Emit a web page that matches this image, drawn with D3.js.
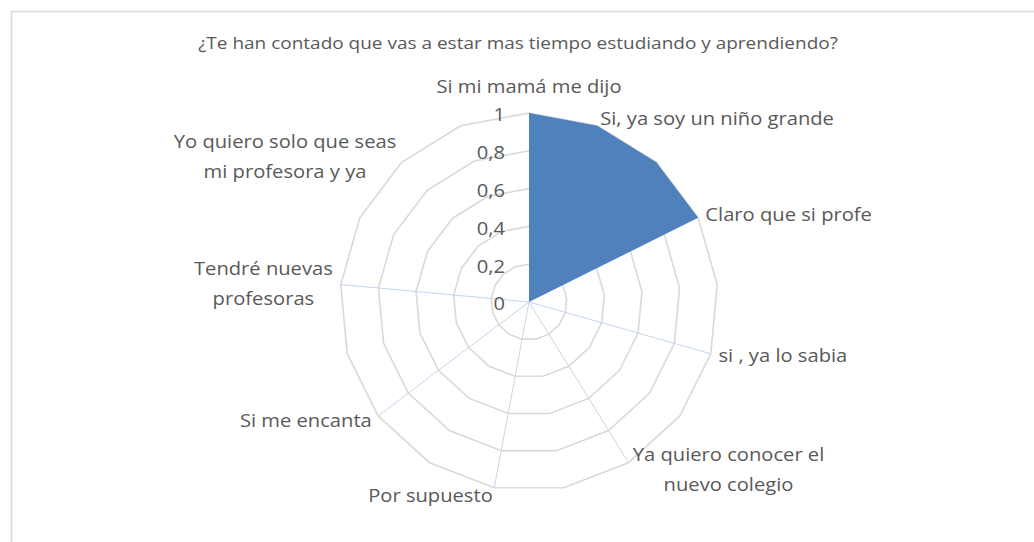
<!DOCTYPE html>
<html>
<head>
<meta charset="utf-8">
<script src="https://cdn.jsdelivr.net/npm/d3@7"></script>
<style>
  body { margin: 0; background: #fff; }
  text { font-family: "Open Sans", Lato, sans-serif; fill: #595959; }
</style>
</head>
<body>
<svg></svg>
<script>
var width = 1034;
var height = 542;
// chart data
var title = "¿Te han contado que vas a estar mas tiempo estudiando y aprendiendo?";
var categories = ["Si mi mamá me dijo", "Si, ya soy un niño grande", "", "Claro que si profe", "",
    "si , ya lo sabia", "", "Ya quiero conocer el\nnuevo colegio", "", "Por supuesto", "",
    "Si me encanta", "", "Tendré nuevas\nprofesoras", "", "Yo quiero solo que seas\nmi profesora y ya", ""];
var values = [1, 1, 1, 1, 0, 0, 0, 0, 0, 0, 0, 0, 0, 0, 0, 0, 0];
var axisLines = [0, 0, 0, 0, 0, 1, 0, 1, 0, 1, 0, 1, 0, 1, 0, 0, 0];
var tickValues = [0, 0.2, 0.4, 0.6, 0.8, 1];

var cx = 529, cy = 302, radius = 189;
var n = categories.length;
var stretch = 1.12; // the picture's text is a little wide

var svg = d3.select("svg")
    .attr("width", width)
    .attr("height", height);

// outer frame
svg.append("rect")
    .attr("x", 11.5).attr("y", 11.5)
    .attr("width", 1040).attr("height", 560)
    .attr("fill", "none")
    .attr("stroke", "#d9d9d9")
    .attr("stroke-width", 1.5);

// title, stretched to the width it has in the picture
var titleG = svg.append("g");
var titleT = titleG.append("text")
    .attr("dy", "0.35em")
    .style("text-anchor", "middle")
    .style("font-size", "15.5px")
    .text(title);
var tw = titleT.node().getComputedTextLength();
titleG.attr("transform", "translate(518,44) scale(" + (640 / tw) + ",1)");

var angle = d3.scaleLinear().domain([0, n]).range([0, 2 * Math.PI]);
var rScale = d3.scaleLinear().domain([0, 1]).range([0, radius]);
var locale = d3.formatLocale({decimal: ",", thousands: ".", grouping: [3], currency: ["", "€"]});
var fmt = locale.format("~g");

var g = svg.append("g").attr("transform", "translate(" + cx + "," + cy + ")");

var ringLine = d3.lineRadial()
    .angle((d, i) => angle(i))
    .radius(d => rScale(d))
    .curve(d3.curveLinearClosed);

// rings
g.selectAll(".ring")
    .data(tickValues.filter(t => t > 0))
    .enter()
    .append("path")
    .attr("d", t => ringLine(categories.map(() => t)))
    .attr("fill", "none")
    .attr("stroke", "#d9d9d9")
    .attr("stroke-width", 1.6);

// spokes
g.selectAll(".spoke")
    .data(categories.map((c, i) => i).filter(i => axisLines[i]))
    .enter()
    .append("line")
    .attr("x1", 0).attr("y1", 0)
    .attr("x2", i => rScale(1) * Math.sin(angle(i)))
    .attr("y2", i => -rScale(1) * Math.cos(angle(i)))
    .attr("stroke", "#c6d6ec")
    .attr("stroke-width", 1);

// filled series
g.append("path")
    .attr("d", ringLine(values))
    .attr("fill", "#4f81bd");

// value axis labels
g.selectAll(".tick")
    .data(tickValues)
    .enter()
    .append("g")
    .attr("transform", t => "translate(-24," + (-rScale(t) + 2) + ") scale(" + stretch + ",1)")
    .append("text")
    .attr("dy", "0.35em")
    .style("text-anchor", "end")
    .style("font-size", "18px")
    .text(t => fmt(t));

// category labels
var lineH = 30;
categories.forEach((c, i) => {
    if (!c) return;
    var a = angle(i);
    var s = Math.sin(a), co = Math.cos(a);
    var px = cx + (radius + 8) * s;
    var py = cy - (radius + 8) * co;
    var lines = c.split("\n");
    var lg = svg.append("g");
    var t = lg.append("text")
        .style("font-size", "18px")
        .style("text-anchor", "middle");
    var spans = lines.map(l => t.append("tspan").text(l));
    var w = d3.max(spans, sp => sp.node().getComputedTextLength()) * stretch;
    var h = lines.length * lineH;
    var bx = px, by = py;
    if (s > 0.1) bx = px + w / 2;
    else if (s < -0.1) bx = px - w / 2;
    else by = py - (h / 2) * co - 3;
    spans.forEach((sp, k) => {
        sp.attr("x", 0)
          .attr("y", -h / 2 + lineH / 2 + k * lineH)
          .attr("dy", "0.35em");
    });
    lg.attr("transform", "translate(" + bx + "," + by + ") scale(" + stretch + ",1)");
});
</script>
</body>
</html>
